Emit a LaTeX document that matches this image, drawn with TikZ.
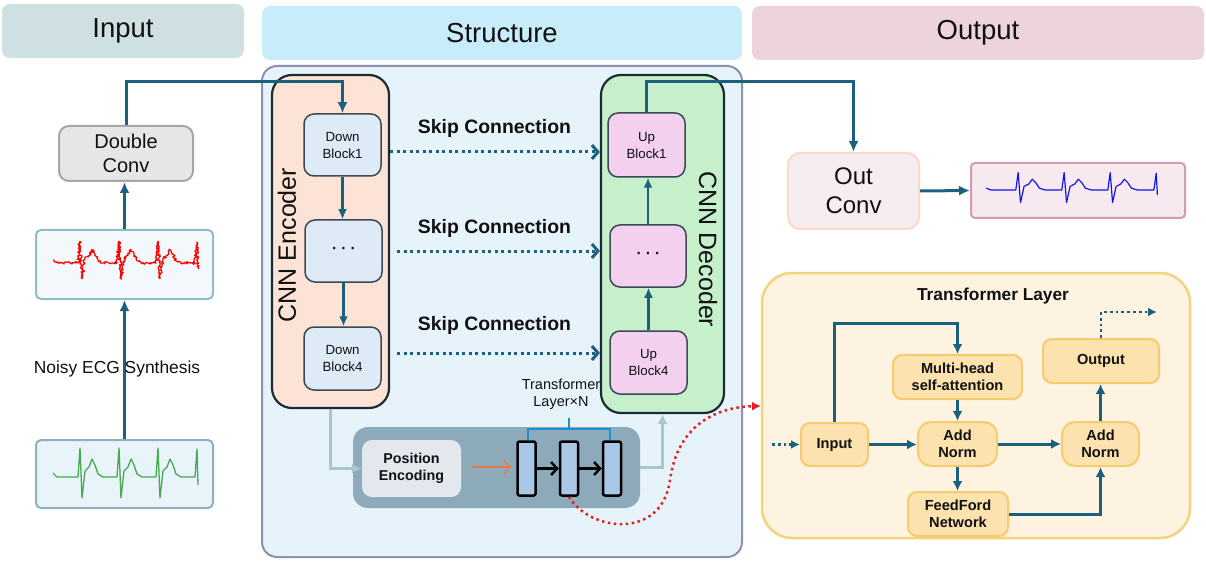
\documentclass[tikz,border=0pt]{standalone}
\usepackage{fontspec}
\setmainfont{Liberation Sans}
\usetikzlibrary{arrows.meta,decorations.pathmorphing,calc}

\definecolor{arrowc}{RGB}{27,96,125}
\definecolor{hdrIn}{RGB}{207,224,227}
\definecolor{hdrSt}{RGB}{201,236,250}
\definecolor{hdrOut}{RGB}{237,211,218}
\definecolor{structBg}{RGB}{230,243,251}
\definecolor{structBorder}{RGB}{142,144,176}
\definecolor{encFill}{RGB}{252,227,214}
\definecolor{decFill}{RGB}{198,239,203}
\definecolor{darkBorder}{RGB}{28,43,51}
\definecolor{downFill}{RGB}{222,234,246}
\definecolor{upFill}{RGB}{242,208,238}
\definecolor{blockBorder}{RGB}{58,74,85}
\definecolor{dcFill}{RGB}{230,230,230}
\definecolor{dcBorder}{RGB}{166,166,166}
\definecolor{noisyFill}{RGB}{242,248,252}
\definecolor{noisyBorder}{RGB}{141,191,196}
\definecolor{cleanFill}{RGB}{232,244,250}
\definecolor{cleanBorder}{RGB}{141,178,186}
\definecolor{trBg}{RGB}{141,170,187}
\definecolor{peFill}{RGB}{226,232,238}
\definecolor{barFill}{RGB}{169,200,232}
\definecolor{bracketc}{RGB}{31,143,208}
\definecolor{orangec}{RGB}{224,123,75}
\definecolor{lightline}{RGB}{167,200,200}
\definecolor{ocFill}{RGB}{247,236,239}
\definecolor{ocBorder}{RGB}{250,217,201}
\definecolor{oeFill}{RGB}{246,234,240}
\definecolor{oeBorder}{RGB}{212,154,174}
\definecolor{panelFill}{RGB}{253,243,224}
\definecolor{panelBorder}{RGB}{245,210,124}
\definecolor{tbFill}{RGB}{251,226,174}
\definecolor{tbBorder}{RGB}{245,203,110}
\definecolor{redc}{RGB}{232,30,30}
\definecolor{ecggreen}{RGB}{70,170,80}
\definecolor{ecgblue}{RGB}{20,20,230}
\definecolor{txt}{RGB}{17,17,17}

\newcommand{\ecgbeat}{-- ++(4,0) -- ++(2,-29) -- ++(2,50) -- ++(3,-27) -- ++(4,-4) -- ++(3,-8) -- ++(3,6) -- ++(3,9) -- ++(5,3) -- ++(10,0)}
\newcommand{\mydots}{{\fontsize{22}{22}\selectfont ·\hspace{2pt}·\hspace{2pt}·}}

\begin{document}
\begin{tikzpicture}[x=1pt,y=-1pt,
  every node/.style={text=txt},
  hdr/.style={rounded corners=8pt, inner sep=0pt, font=\fontsize{27.5}{33}\selectfont},
  blk/.style={draw=blockBorder, line width=1.5pt, rounded corners=10pt, inner sep=0pt, align=center, font=\fontsize{13.3}{17}\selectfont, minimum width=77pt, minimum height=63pt},
  arr/.style={draw=arrowc, line width=3pt, -{Latex[length=11pt,width=10pt]}},
  sarr/.style={draw=arrowc, line width=2.2pt, -{Latex[length=10pt,width=9pt]}},
  skipc/.style={draw=arrowc, line width=3pt, dash pattern=on 3pt off 3.5pt, -{Straight Barb[length=6pt,width=14pt,line width=3pt]}},
  lbl/.style={font=\bfseries\fontsize{19.4}{23}\selectfont},
  larr/.style={draw=lightline, line width=2.8pt, -{Latex[length=10pt,width=10pt]}},
  bar/.style={draw=black, fill=barFill, line width=2.5pt, rounded corners=2pt, minimum width=18pt, minimum height=54pt, inner sep=0pt},
  barr/.style={draw=black, line width=2.5pt, -{Straight Barb[length=6pt,width=13pt,line width=2.5pt]}},
  tb/.style={draw=tbBorder, fill=tbFill, line width=2pt, rounded corners=9pt, inner sep=0pt, align=center, font=\bfseries\fontsize{14.6}{17}\selectfont},
  parr/.style={draw=arrowc, line width=3pt, -{Latex[length=10pt,width=10pt]}},
  pdot/.style={draw=arrowc, line width=2.8pt, dash pattern=on 2.8pt off 3pt, -{Latex[length=9pt,width=9pt]}}
]
\useasboundingbox (0,0) rectangle (1206,561);

% headers
\node[hdr, fill=hdrIn, minimum width=242pt, minimum height=54pt] (hin) at (123,31) {Input};
\node[hdr, fill=hdrSt, minimum width=480pt, minimum height=54pt] (hst) at (502,33) {Structure};
\node[hdr, fill=hdrOut, minimum width=452pt, minimum height=54pt] (hout) at (978,33) {Output};

% structure panel
\node[draw=structBorder, fill=structBg, line width=2pt, rounded corners=15pt, minimum width=480pt, minimum height=491pt, inner sep=0pt] (struct) at (502,311.5) {};

% encoder / decoder
\node[draw=darkBorder, fill=encFill, line width=2.2pt, rounded corners=20pt, minimum width=117pt, minimum height=333pt, inner sep=0pt] (enc) at (330.5,241.5) {};
\node[draw=darkBorder, fill=decFill, line width=2.2pt, rounded corners=20pt, minimum width=123pt, minimum height=338pt, inner sep=0pt] (dec) at (662.5,244) {};
\node[rotate=90, font=\fontsize{25}{30}\selectfont] (enct) at (287,245) {CNN Encoder};
\node[rotate=-90, font=\fontsize{25}{30}\selectfont] (dect) at (708,249.5) {CNN Decoder};

\node[blk, fill=downFill, minimum height=62pt] (db1) at (342.5,145) {Down\\Block1};
\node[blk, fill=downFill, minimum height=62pt] (dd) at (343.5,251) {\mydots};
\node[blk, fill=downFill] (db4) at (342.5,358.5) {Down\\Block4};
\node[blk, fill=upFill, minimum height=64pt] (ub1) at (646.5,145) {Up\\Block1};
\node[blk, fill=upFill, minimum width=76pt, minimum height=62pt] (ud) at (648,256) {\mydots};
\node[blk, fill=upFill] (ub4) at (648.5,362.5) {Up\\Block4};

\draw[sarr] (db1.south) -- (db1.south |- dd.north);
\draw[sarr] (dd.south) -- (dd.south |- db4.north);
\draw[sarr] (ub4.north) -- (ub4.north |- ud.south);
\draw[sarr] (ud.north) -- (ud.north |- ub1.south);

% skip connections
\coordinate (s1) at (390,152);
\coordinate (s2) at (397,251);
\coordinate (s3) at (397,353);
\draw[skipc] (s1) -- (s1 -| dec.west);
\draw[skipc] (s2) -- (s2 -| dec.west);
\draw[skipc] (s3) -- (s3 -| dec.west);
\node[lbl] (sk1) at (494.5,128) {Skip Connection};
\node[lbl] (sk2) at (494.5,228) {Skip Connection};
\node[lbl] (sk3) at (494.5,325) {Skip Connection};

% input column
\node[draw=dcBorder, fill=dcFill, line width=2pt, rounded corners=10pt, minimum width=134pt, minimum height=55pt, inner sep=0pt, align=center, font=\fontsize{20}{24}\selectfont] (dconv) at (126,153.5) {Double\\Conv};
\node[draw=noisyBorder, fill=noisyFill, line width=2pt, rounded corners=5pt, minimum width=177pt, minimum height=69pt, inner sep=0pt] (noisy) at (124.5,264.5) {};
\node[draw=cleanBorder, fill=cleanFill, line width=2pt, rounded corners=5pt, minimum width=177pt, minimum height=68pt, inner sep=0pt] (clean) at (124.5,474) {};
\draw[arr] (clean.north) -- (noisy.south);
\draw[arr] (noisy.north) -- (noisy.north |- dconv.south);
\node[font=\fontsize{17.4}{21}\selectfont] (nes) at (117,369) {Noisy ECG Synthesis};

% ECG signals
\begin{scope}[shift={(57,477)}]
\draw[ecggreen, line width=1.3pt, line join=round] (-4,-4) -- (0,0) -- (17,0) \ecgbeat \ecgbeat \ecgbeat -- ++(4,0) -- ++(2,-28) -- ++(1,36);
\end{scope}
\pgfmathsetseed{7}
\begin{scope}[shift={(57,263)}, yscale=0.75]
\draw[red, line width=1.2pt, line join=round, decorate, decoration={random steps, segment length=1pt, amplitude=1.4pt}] (-4,-4) -- (0,0) -- (17,0) \ecgbeat \ecgbeat \ecgbeat -- ++(4,0) -- ++(2,-28) -- ++(1,36);
\end{scope}

% output column
\node[draw=ocBorder, fill=ocFill, line width=2pt, rounded corners=12pt, minimum width=131pt, minimum height=76pt, inner sep=0pt, align=center, font=\fontsize{24}{29}\selectfont] (oc) at (853.5,191) {Out\\Conv};
\node[draw=oeBorder, fill=oeFill, line width=2pt, rounded corners=4pt, minimum width=214pt, minimum height=55pt, inner sep=0pt] (oe) at (1078,190.5) {};
\draw[arr] (oc.east) -- (oe.west);
\begin{scope}[shift={(991,190)}, xscale=1.18, yscale=0.6]
\draw[ecgblue, line width=1.2pt, line join=round] (-4,-3) -- (0,0) -- (17,0) \ecgbeat \ecgbeat \ecgbeat -- ++(4,0) -- ++(2,-28) -- ++(1,36);
\end{scope}

% top connectors
\coordinate (ytop) at (0,82);
\draw[arr] (dconv.north) |- (db1.north |- ytop) -- (db1.north);
\draw[arr] (ub1.north) |- (oc.north |- ytop) -- (oc.north);

% transformer stack in structure
\node[fill=trBg, rounded corners=15pt, minimum width=287pt, minimum height=81pt, inner sep=0pt] (trbg) at (496.5,467.5) {};
\node[fill=peFill, rounded corners=10pt, minimum width=99pt, minimum height=57pt, inner sep=0pt, align=center, font=\bfseries\fontsize{14.3}{17}\selectfont] (pe) at (411.5,468.5) {Position\\Encoding};
\coordinate (oa) at (472,467);
\draw[draw=orangec, line width=1.5pt, -{Straight Barb[length=6pt,width=13pt,line width=1.5pt]}] (oa) -- ++(39,0);
\node[bar] (bar1) at (526.5,468.5) {};
\node[bar] (bar2) at (569,468.5) {};
\node[bar] (bar3) at (612,468.5) {};
\draw[barr] (bar1.east) -- (bar2.west);
\draw[barr] (bar2.east) -- (bar3.west);
\coordinate (brk) at (569,429);
\draw[draw=bracketc, line width=2.5pt] ([xshift=1.5pt]bar1.north) |- (brk) -| ([xshift=-2pt]bar3.north);
\draw[draw=bracketc, line width=2.5pt] (brk) -- ++(0,-11);
\draw[larr] (enc.south) |- (pe.west);
\draw[larr] (trbg.east) -| (dec.south);
\node[align=center, font=\fontsize{14.5}{17}\selectfont] (tln) at (561,394) {Transformer\\Layer×N};

% transformer layer panel
\node[draw=panelBorder, fill=panelFill, line width=2.5pt, rounded corners=30pt, minimum width=428pt, minimum height=265pt, inner sep=0pt] (panel) at (976,405.5) {};
\node[font=\bfseries\fontsize{17.3}{20}\selectfont] (ptitle) at (993,296) {Transformer Layer};
\node[tb, minimum width=67pt, minimum height=43pt] (tin) at (834.5,444.5) {Input};
\node[tb, minimum width=129pt, minimum height=44pt] (mh) at (957.5,377) {Multi-head\\self-attention};
\node[tb, rounded corners=13pt, minimum width=79pt, minimum height=44pt] (an1) at (957.5,444) {Add\\Norm};
\node[tb, minimum width=100pt, minimum height=44pt] (ff) at (958,514) {FeedFord\\Network};
\node[tb, rounded corners=13pt, minimum width=77pt, minimum height=44pt] (an2) at (1100.5,444) {Add\\Norm};
\node[tb, minimum width=116pt, minimum height=44pt] (outp) at (1101,361) {Output};

\coordinate (ytr) at (0,323);
\draw[parr] (tin.north) |- (mh.north |- ytr) -- (mh.north);
\draw[parr] (mh.south) -- (an1.north);
\draw[parr] (tin.east) -- (tin.east -| an1.west);
\draw[parr] (an1.south) -- (an1.south |- ff.north);
\draw[parr] (an1.east) -- (an2.west);
\draw[parr] (ff.east) -| (an2.south);
\draw[parr] (an2.north) -- (an2.north |- outp.south);
\coordinate (dotend) at (1157,312);
\draw[pdot] (outp.north) |- (dotend);
\coordinate (dotstart) at (772,444.5);
\draw[pdot] (dotstart) -- (tin.west);

% red dotted link
\draw[draw=redc, line width=2.5pt, dash pattern=on 2.5pt off 3.5pt, -{Latex[length=9pt,width=9pt]}] (bar2.south) .. controls (590,532) and (662,540) .. (670,480) .. controls (678,422) and (720,407) .. (761,406);

\end{tikzpicture}
\end{document}
